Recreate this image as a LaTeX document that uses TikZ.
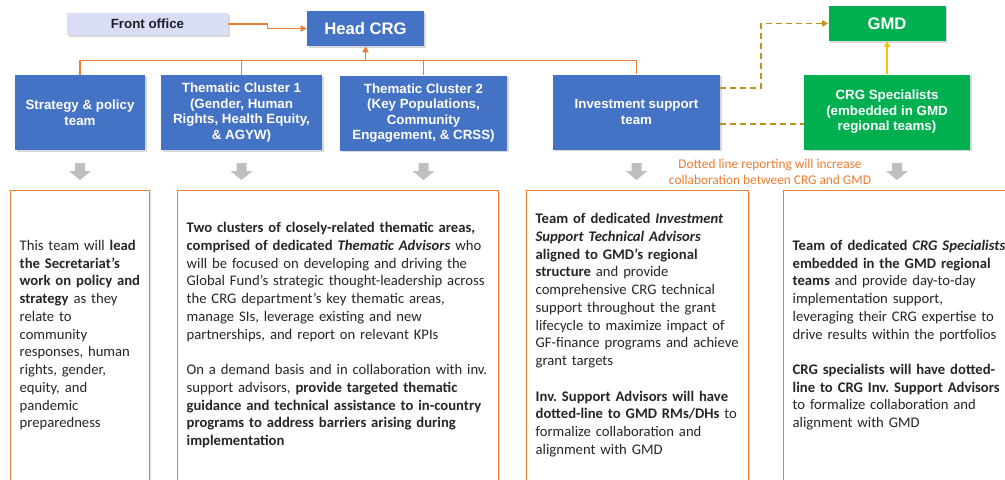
\documentclass[tikz,border=0pt]{standalone}
\usepackage{fontspec}
\setmainfont{Carlito}
\newfontfamily\arialfont{Liberation Sans}
\frenchspacing
\usetikzlibrary{arrows.meta, positioning, shadows}
\definecolor{crgblue}{RGB}{68,114,196}
\definecolor{gmdgreen}{RGB}{0,176,80}
\definecolor{linkorange}{RGB}{237,125,49}
\definecolor{dotgold}{RGB}{191,146,30}
\definecolor{upyellow}{RGB}{255,192,0}
\definecolor{frontfill}{RGB}{218,222,245}
\definecolor{downgray}{RGB}{191,191,191}
\definecolor{bodytext}{RGB}{38,38,38}
\tikzset{
  softshadow/.style={drop shadow={shadow xshift=1.2pt, shadow yshift=-1.2pt, opacity=0.3}},
  team/.style={rectangle, fill=crgblue, text=white, align=center, minimum height=56.25pt, inner sep=2pt, softshadow, font=\arialfont\bfseries\fontsize{10}{11.6}\selectfont},
  headbox/.style={team, minimum height=26.25pt, minimum width=87.75pt, font=\arialfont\bfseries\fontsize{12.5}{14}\selectfont},
  frontbox/.style={rectangle, fill=frontfill, text={rgb,255:red,30;green,30;blue,40}, minimum width=120.75pt, minimum height=16.5pt, softshadow, font=\arialfont\bfseries\fontsize{10}{12}\selectfont},
  textbox/.style={rectangle, draw=linkorange, line width=1pt, fill=white, anchor=north west, minimum height=217.5pt, align=left, inner xsep=6.75pt, text=bodytext, softshadow, font=\fontsize{11}{13.3}\selectfont\frenchspacing},
  note/.style={text=linkorange, align=center, font=\fontsize{10}{12}\selectfont},
  orgline/.style={linkorange, line width=1.1pt},
  orgarrow/.style={orgline, -{Triangle[length=4.5pt,width=4.5pt]}},
  dotline/.style={dotgold, line width=1.3pt, dash pattern=on 4.5pt off 3pt},
}

\begin{document}
\begin{tikzpicture}[x=0.75pt, y=-0.75pt]
  \fill[white] (0,0) rectangle (1005,479);
  \useasboundingbox (0,0) rectangle (1005,479);

  % top of the chart
  \node[frontbox] (front) at (147.5,24) {Front office};
  \node[headbox] (head) at (365.5,28.5) {Head CRG};

  % teams
  \node[team, minimum width=97.5pt] (strat) at (80,112.5) {Strategy \& policy\\team};
  \node[team, minimum width=120.75pt] (tc1) at (241.5,112.5) {Thematic Cluster 1\\(Gender, Human\\Rights, Health Equity,\\\& AGYW)};
  \node[team, minimum width=125.25pt] (tc2) at (423.5,113) {Thematic Cluster 2\\(Key Populations,\\Community\\Engagement, \& CRSS)};
  \node[team, minimum width=125.25pt] (inv) at (636.5,112) {Investment support\\team};
  \node[team, fill=gmdgreen, minimum width=124.5pt] (spec) at (887,112) {CRG Specialists\\(embedded in GMD\\regional teams)};
  \node[headbox, fill=gmdgreen, above=24.75pt of spec] (gmd) {GMD};

  % reporting lines
  \draw[orgarrow] (front.east) -- ++(39,0) |- (head.west);
  \draw[orgline] (strat.north) -- ++(0,-14) -| (inv.north);
  \draw[orgline] (tc1.north) -- ++(0,-14);
  \draw[orgline] (tc2.north) -- ++(0,-14);
  \coordinate (bus) at (365.5,61);
  \draw[orgarrow] (bus) -- (bus |- head.south);
  \draw[dotline, -{Triangle[length=4.5pt,width=4.5pt]}] ([yshift=-10.5pt]inv.north east) -- ++(41,0) |- (gmd.west);
  \draw[dotline] ([yshift=-9pt]inv.east) -- ([yshift=-9pt]spec.west);
  \draw[upyellow, line width=1pt, -{Triangle[length=4.5pt,width=4.5pt]}] (spec.north) -- (gmd.south);

  \node[note] (dotnote) at (770,172) {Dotted line reporting will increase\\collaboration between CRG and GMD};

  % grey arrows down to the descriptions
  \foreach \x in {80,241.5,423.5,636.5,897}
    \fill[downgray] (\x-5,163) -- (\x+5,163) -- (\x+5,171) -- (\x+11,171) -- (\x,180) -- (\x-11,171) -- (\x-5,171) -- cycle;

  % descriptions
  \node[textbox, text width=90.75pt] (strattext) at (10,189.5) {This team will \textbf{lead}\\
    \textbf{the Secretariat's}\\
    \textbf{work on policy and}\\
    \textbf{strategy} as they\\
    relate to\\
    community\\
    responses, human\\
    rights, gender,\\
    equity, and\\
    pandemic\\
    preparedness};
  \node[textbox, text width=227.25pt] (clustertext) at (177,189.5) {\textbf{Two clusters of closely-related thematic areas,}\\
    \textbf{comprised of dedicated \textit{Thematic Advisors}} who\\
    will be focused on developing and driving the\\
    Global Fund's strategic thought-leadership across\\
    the CRG department's key thematic areas,\\
    manage SIs, leverage existing and new\\
    partnerships, and report on relevant KPIs\\[13.3pt]
    On a demand basis and in collaboration with inv.\\
    support advisors, \textbf{provide targeted thematic}\\
    \textbf{guidance and technical assistance to in-country}\\
    \textbf{programs to address barriers arising during}\\
    \textbf{implementation}};
  \node[textbox, text width=153pt] (invtext) at (526,189.5) {\textbf{Team of dedicated \textit{Investment}}\\
    \textbf{\textit{Support Technical Advisors}}\\
    \textbf{aligned to GMD's regional}\\
    \textbf{structure} and provide\\
    comprehensive CRG technical\\
    support throughout the grant\\
    lifecycle to maximize impact of\\
    GF-finance programs and achieve\\
    grant targets\\[13.3pt]
    \textbf{Inv. Support Advisors will have}\\
    \textbf{dotted-line to GMD RMs/DHs} to\\
    formalize collaboration and\\
    alignment with GMD};
  \node[textbox, text width=160.5pt] (spectext) at (783,189.5) {\textbf{Team of dedicated \textit{CRG Specialists}}\\
    \textbf{embedded in the GMD regional}\\
    \textbf{teams} and provide day-to-day\\
    implementation support,\\
    leveraging their CRG expertise to\\
    drive results within the portfolios\\[13.3pt]
    \textbf{CRG specialists will have dotted-}\\
    \textbf{line to CRG Inv. Support Advisors}\\
    to formalize collaboration and\\
    alignment with GMD};
\end{tikzpicture}
\end{document}
